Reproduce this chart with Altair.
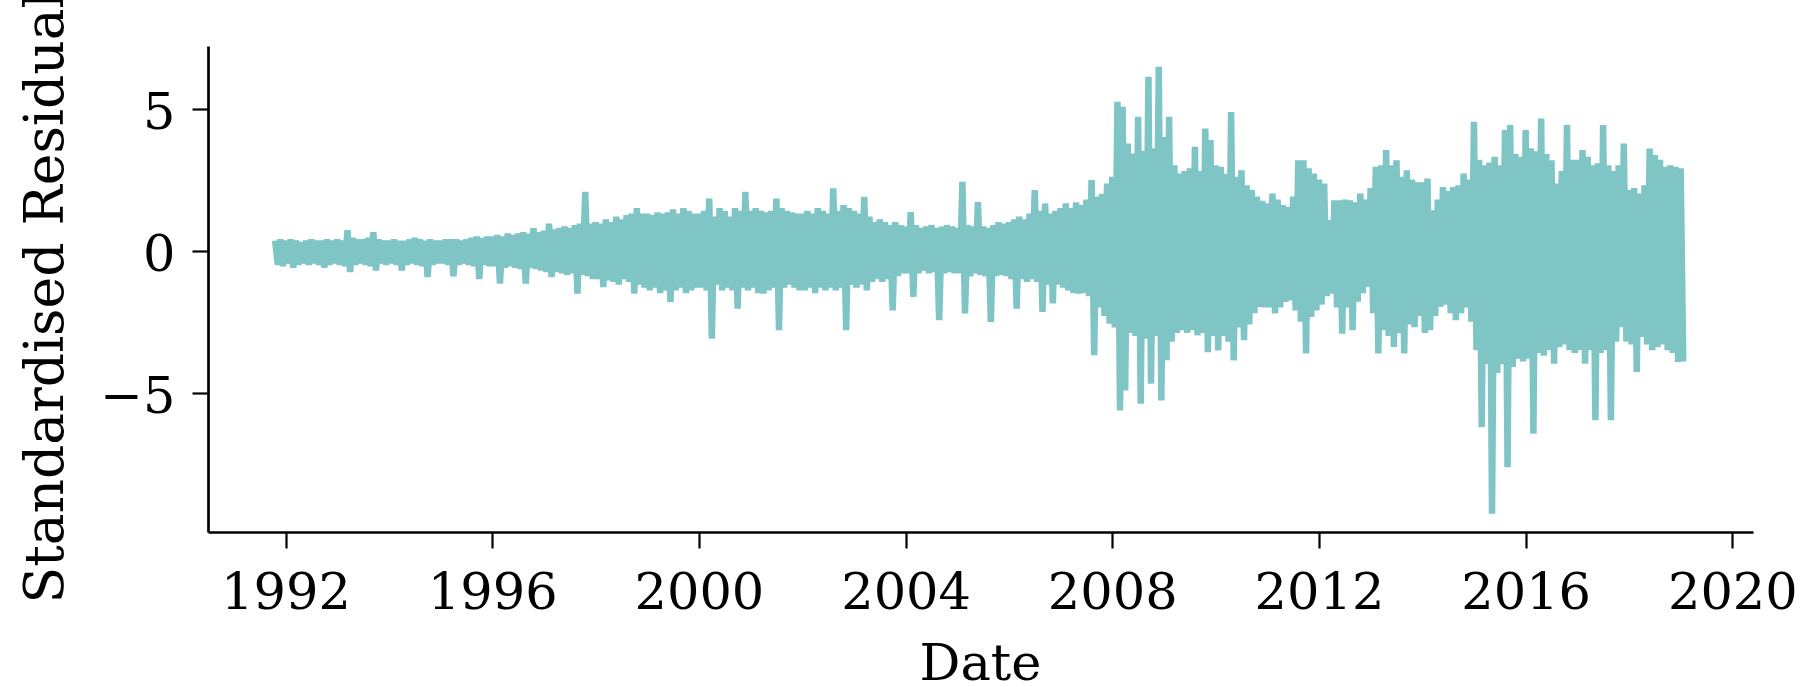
import altair as alt
import pandas as pd

# Envelope of the standardised residuals at 0.1-year steps.
# Each pair (hi, lo) is the top and bottom of the trace in that 0.1-year slot.
START_YEAR = 1991.8
STEP = 0.1

hi_1990s = [0.35, 0.40,
            0.35, 0.40, 0.35, 0.30, 0.35, 0.40, 0.35, 0.35, 0.40, 0.35,
            0.40, 0.35, 0.72, 0.45, 0.40, 0.40, 0.45, 0.65, 0.40, 0.35,
            0.35, 0.40, 0.35, 0.35, 0.40, 0.45, 0.40, 0.35, 0.40, 0.35,
            0.35, 0.40, 0.40, 0.40, 0.35, 0.40, 0.45, 0.50, 0.45, 0.50,
            0.50, 0.55, 0.50, 0.60, 0.55, 0.60, 0.65, 0.60, 0.79, 0.65,
            0.70, 0.95, 0.75, 0.80, 0.85, 0.80, 0.90, 0.95, 2.07, 0.95,
            1.00, 0.95, 1.10, 1.00, 1.20, 1.10, 1.25, 1.30, 1.50, 1.30,
            1.30, 1.25, 1.35, 1.30, 1.35, 1.45, 1.30, 1.50, 1.40, 1.30]
lo_1990s = [-0.50, -0.55,
            -0.45, -0.60, -0.50, -0.45, -0.50, -0.45, -0.50, -0.60, -0.50, -0.45,
            -0.50, -0.55, -0.75, -0.50, -0.45, -0.50, -0.55, -0.70, -0.45, -0.50,
            -0.45, -0.50, -0.70, -0.50, -0.45, -0.50, -0.55, -0.93, -0.50, -0.45,
            -0.45, -0.50, -0.90, -0.50, -0.45, -0.50, -0.55, -1.00, -0.50, -0.55,
            -0.55, -1.16, -0.60, -0.55, -0.60, -0.65, -1.16, -0.60, -0.65, -0.70,
            -0.75, -0.93, -0.75, -0.80, -0.85, -0.80, -1.51, -0.85, -0.90, -1.00,
            -1.00, -1.28, -1.05, -1.10, -1.20, -1.00, -1.10, -1.51, -1.20, -1.30,
            -1.40, -1.30, -1.50, -1.40, -1.81, -1.40, -1.30, -1.50, -1.40, -1.30]

hi_2000s = [1.30, 1.40, 1.83, 1.20, 1.50, 1.40, 1.20, 1.50, 1.40, 2.07,
            1.40, 1.50, 1.40, 1.35, 1.40, 1.83, 1.50, 1.40, 1.35, 1.30,
            1.30, 1.40, 1.30, 1.50, 1.40, 1.30, 2.19, 1.40, 1.60, 1.50,
            1.40, 1.30, 1.89, 1.20, 1.00, 1.10, 1.00, 0.90, 1.00, 0.90,
            0.85, 1.36, 0.90, 0.80, 0.85, 0.90, 0.80, 0.85, 0.90, 0.85,
            0.80, 2.42, 0.90, 0.85, 1.71, 0.85, 0.80, 0.90, 1.00, 0.95,
            1.00, 1.10, 1.20, 1.10, 1.30, 2.13, 1.40, 1.66, 1.30, 1.40,
            1.50, 1.66, 1.50, 1.70, 1.60, 1.80, 2.48, 1.90, 2.00, 2.36,
            2.60, 5.24, 5.06, 3.77, 3.42, 4.71, 3.50, 6.12, 3.60, 6.47,
            4.00, 4.71, 3.00, 2.71, 2.80, 2.90, 3.65, 2.80, 4.30, 3.89]
lo_2000s = [-1.30, -1.40, -3.10, -1.20, -1.40, -1.30, -1.40, -2.04, -1.30, -1.40,
            -1.30, -1.50, -1.51, -1.40, -1.30, -2.80, -1.30, -1.20, -1.30, -1.40,
            -1.40, -1.30, -1.50, -1.30, -1.40, -1.30, -1.40, -1.30, -2.80, -1.20,
            -1.30, -1.20, -1.40, -1.10, -1.00, -1.10, -1.00, -2.10, -0.90, -0.80,
            -0.80, -1.63, -0.80, -0.70, -0.80, -0.75, -2.45, -0.80, -0.75, -0.80,
            -0.80, -2.21, -0.90, -0.80, -0.85, -0.90, -2.51, -0.90, -0.85, -0.90,
            -1.00, -2.04, -1.00, -1.10, -1.00, -1.10, -2.16, -1.20, -1.86, -1.20,
            -1.30, -1.40, -1.50, -1.51, -1.50, -1.60, -3.68, -2.00, -2.30, -2.57,
            -2.70, -5.62, -4.92, -2.90, -3.00, -5.39, -3.10, -4.68, -3.00, -5.27,
            -3.86, -3.20, -2.90, -2.80, -2.90, -2.80, -2.98, -2.90, -3.57, -3.00]

hi_2010s = [3.00, 2.95, 2.70, 4.88, 2.60, 2.83, 2.30, 2.13, 1.90, 1.75,
            1.66, 2.01, 1.80, 1.60, 1.54, 1.90, 3.18, 3.18, 2.90, 2.71,
            2.50, 2.36, 1.07, 1.77, 1.77, 1.80, 1.77, 1.70, 2.01, 1.80,
            2.20, 2.95, 3.00, 3.54, 3.00, 3.18, 2.60, 2.83, 2.50, 2.40,
            2.40, 2.54, 1.42, 1.80, 2.24, 2.10, 2.24, 2.30, 2.71, 2.50,
            4.53, 3.20, 3.00, 3.10, 3.30, 3.00, 4.24, 4.42, 3.40, 3.30,
            4.24, 3.60, 3.50, 4.65, 3.40, 3.18, 2.36, 2.80, 4.42, 3.20,
            3.20, 3.54, 3.30, 3.00, 3.07, 4.42, 3.00, 2.80, 3.00, 3.77,
            2.13, 2.20, 2.01, 2.30, 3.59, 3.36, 3.20, 2.95, 3.00, 2.95,
            2.90]
lo_2010s = [-3.51, -3.00, -3.20, -3.86, -2.70, -3.15, -2.60, -2.20, -1.98, -2.00,
            -2.00, -2.21, -2.00, -1.80, -1.75, -2.10, -2.50, -3.62, -2.33, -2.10,
            -1.90, -1.60, -1.51, -2.00, -2.92, -2.00, -2.80, -1.80, -1.50, -1.28,
            -2.20, -3.62, -2.80, -3.00, -3.39, -2.90, -3.62, -2.60, -2.69, -2.30,
            -2.90, -2.80, -2.30, -1.98, -1.90, -2.20, -2.45, -2.20, -2.00, -2.50,
            -3.50, -6.21, -4.00, -9.26, -4.30, -4.00, -7.62, -4.09, -3.80, -3.90,
            -3.80, -6.44, -3.60, -3.70, -3.50, -3.98, -3.40, -3.30, -3.50, -3.60,
            -3.50, -3.98, -3.50, -5.97, -3.60, -3.50, -5.97, -3.20, -2.69, -3.20,
            -3.30, -4.27, -3.04, -3.30, -3.50, -3.40, -3.30, -3.50, -3.60, -3.92,
            -3.90]

x_ticks = [1992, 1996, 2000, 2004, 2008, 2012, 2016, 2020]
y_ticks = [-5, 0, 5]

hi = hi_1990s + hi_2000s + hi_2010s
lo = lo_1990s + lo_2000s + lo_2010s
assert len(hi) == len(lo)

rows = []
for k, (h, l) in enumerate(zip(hi, lo)):
    t = START_YEAR + k * STEP
    rows.append({"Date": round(t, 3), "Residual": h})
    rows.append({"Date": round(t + STEP / 2, 3), "Residual": l})
df = pd.DataFrame(rows)

FONT = "DejaVu Serif"
FS = 51

chart = alt.Chart(df).mark_line(
    color="#7fc5c5", strokeWidth=6.5, strokeJoin="bevel"
).encode(
    x=alt.X("Date:Q",
            scale=alt.Scale(domain=[1990.5, 2020.4], nice=False, zero=False),
            axis=alt.Axis(values=x_ticks, format="d", title="Date",
                          labelFlush=False, labelBaseline="alphabetic",
                          tickSize=16, labelPadding=60,
                          titleBaseline="alphabetic", titleY=147, titleX=772,
                          titleAlign="center")),
    y=alt.Y("Residual:Q",
            scale=alt.Scale(domain=[-9.9, 7.2], nice=False, zero=False),
            axis=alt.Axis(values=y_ticks, format="d", title="Standardised Residual",
                          labelFlush=False, labelBaseline="alphabetic", labelOffset=20,
                          tickSize=16, labelPadding=17,
                          titleAngle=270, titleAlign="left", titleBaseline="alphabetic",
                          titleFontSize=53.5,
                          titleX=-146, titleY=557)),
    order=alt.Order("Date:Q"),
).properties(
    width=1545, height=486,
    autosize=alt.AutoSizeParams(type="none"),
    padding={"left": 208, "top": 46, "right": 56, "bottom": 155},
    background="white",
).configure_view(stroke=None).configure_axis(
    grid=False,
    domainColor="black", domainWidth=2.7,
    tickColor="black", tickWidth=2.2,
    labelFont=FONT, labelFontSize=FS, labelColor="black",
    titleFont=FONT, titleFontSize=FS, titleColor="black", titleFontWeight="normal",
    labelAngle=0,
)

chart.save("out.html", embed_options={"renderer": "svg", "actions": False})
